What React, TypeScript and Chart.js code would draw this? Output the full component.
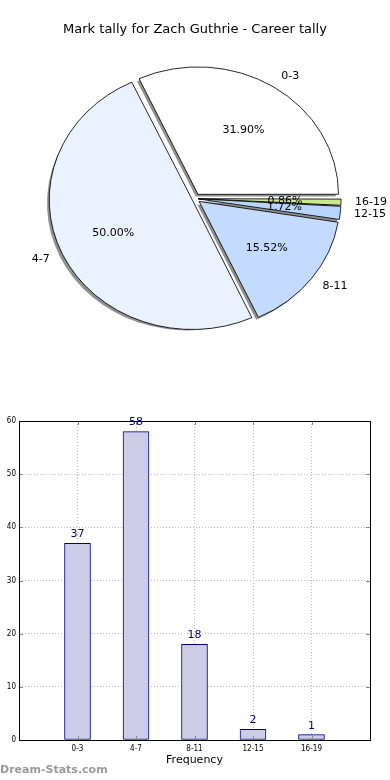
import React, { useEffect, useRef } from 'react';
import { Chart, registerables } from 'chart.js';

Chart.register(...registerables);

const TITLE = 'Mark tally for Zach Guthrie - Career tally';
const categories = ['0-3', '4-7', '8-11', '12-15', '16-19'];
const counts = [37, 58, 18, 2, 1];
const sliceColors = ['#ffffff', '#ebf2ff', '#c5daff', '#b9d5fb', '#c9e98d'];
const yTicks = [0, 10, 20, 30, 40, 50, 60];
const X_TITLE = 'Frequency';
const WATERMARK = 'Dream-Stats.com';

const PIE_R = 127;
const SX = 140 / 127;
const EXPLODE = 5.5;
const FONT = "'DejaVu Sans', sans-serif";
const SMALL_FONT = "'DejaVu Sans Condensed', 'DejaVu Sans', sans-serif";

// Chart.js moves an arc by offset/4 * (1 + (1 - sin(min(PI, circumference))))
function offsetFor(value: number, total: number) {
  const circ = (2 * Math.PI * value) / total;
  const fix = 1 - Math.sin(Math.min(Math.PI, circ));
  return (4 * EXPLODE) / (1 + fix);
}

const pieDecor = {
  id: 'pieDecor',
  beforeDatasetsDraw(chart: any) {
    const ctx = chart.ctx;
    const arcs = chart.getDatasetMeta(0).data;
    chart.$pieSaved = false;
    if (!arcs.length) return;
    const cx = arcs[0].x;
    const cy = arcs[0].y;
    ctx.save();
    ctx.translate(cx - 2.5, cy + 2.5);
    ctx.scale(SX, 1);
    ctx.translate(-cx, -cy);
    arcs.forEach((a: any) => {
      const mid = (a.startAngle + a.endAngle) / 2;
      const ox = a.x + Math.cos(mid) * EXPLODE;
      const oy = a.y + Math.sin(mid) * EXPLODE;
      ctx.beginPath();
      ctx.moveTo(ox, oy);
      ctx.arc(ox, oy, a.outerRadius, a.startAngle, a.endAngle);
      ctx.closePath();
      ctx.fillStyle = '#909090';
      ctx.fill();
    });
    ctx.restore();
    ctx.save();
    ctx.translate(cx, cy);
    ctx.scale(SX, 1);
    ctx.translate(-cx, -cy);
    chart.$pieSaved = true;
  },
  afterDatasetsDraw(chart: any) {
    const ctx = chart.ctx;
    if (chart.$pieSaved) ctx.restore();
    chart.$pieSaved = false;
    const arcs = chart.getDatasetMeta(0).data;
    const values: number[] = chart.data.datasets[0].data;
    const labels: string[] = chart.data.labels;
    const total = values.reduce((s, v) => s + v, 0);
    ctx.save();
    ctx.font = `11px ${FONT}`;
    ctx.fillStyle = '#000';
    ctx.textBaseline = 'middle';
    arcs.forEach((a: any, i: number) => {
      const mid = (a.startAngle + a.endAngle) / 2;
      const c = Math.cos(mid);
      const s = Math.sin(mid);
      const lx = a.x + c * (EXPLODE + 1.1 * a.outerRadius) * SX;
      const ly = a.y + s * (EXPLODE + 1.1 * a.outerRadius);
      ctx.textAlign = c > 0 ? 'left' : 'right';
      ctx.fillText(labels[i], lx, ly);
      const px = a.x + c * (EXPLODE + 0.6 * a.outerRadius) * SX;
      const py = a.y + s * (EXPLODE + 0.6 * a.outerRadius);
      ctx.textAlign = 'center';
      ctx.fillText(((values[i] / total) * 100).toFixed(2) + '%', px, py);
    });
    ctx.restore();
  },
};

const barDecor = {
  id: 'barDecor',
  afterDatasetsDraw(chart: any) {
    const ctx = chart.ctx;
    const meta = chart.getDatasetMeta(0);
    const data = chart.data.datasets[0].data;
    ctx.save();
    ctx.font = `11px ${FONT}`;
    ctx.fillStyle = '#000080';
    ctx.textAlign = 'center';
    ctx.textBaseline = 'middle';
    meta.data.forEach((bar: any, i: number) => {
      const v = data[i];
      if (v === null || v === undefined) return;
      ctx.fillText(String(v), bar.x, bar.y - 9);
    });
    ctx.restore();
  },
  afterDraw(chart: any) {
    const ctx = chart.ctx;
    const { left, top, right, bottom } = chart.chartArea;
    ctx.save();
    ctx.strokeStyle = '#888';
    ctx.lineWidth = 1;
    const xs = chart.scales.x;
    const ys = chart.scales.y;
    ctx.beginPath();
    xs.ticks.forEach((t: any, i: number) => {
      const x = Math.round(xs.getPixelForTick(i)) + 0.5;
      ctx.moveTo(x, top);
      ctx.lineTo(x, top + 4);
      ctx.moveTo(x, bottom);
      ctx.lineTo(x, bottom - 4);
    });
    ys.ticks.forEach((t: any, i: number) => {
      const y = Math.round(ys.getPixelForTick(i)) + 0.5;
      ctx.moveTo(left, y);
      ctx.lineTo(left + 4, y);
      ctx.moveTo(right, y);
      ctx.lineTo(right - 4, y);
    });
    ctx.stroke();
    ctx.strokeStyle = '#000';
    ctx.lineWidth = 1;
    ctx.strokeRect(Math.round(left) + 0.5, Math.round(top) + 0.5, Math.round(right - left), Math.round(bottom - top));
    ctx.font = `bold 11px ${FONT}`;
    ctx.fillStyle = '#9a9a9a';
    ctx.textAlign = 'left';
    ctx.textBaseline = 'middle';
    ctx.fillText(WATERMARK, 0, chart.height - 10);
    ctx.restore();
  },
};

function PieChart() {
  const ref = useRef<HTMLCanvasElement>(null);
  useEffect(() => {
    if (!ref.current) return;
    const order = categories.map((_, i) => i).reverse();
    const total = counts.reduce((s, v) => s + v, 0);
    const chart = new Chart(ref.current, {
      type: 'pie',
      data: {
        labels: order.map((i) => categories[i]),
        datasets: [
          {
            data: order.map((i) => counts[i]),
            backgroundColor: order.map((i) => sliceColors[i]),
            borderColor: '#000',
            borderWidth: 0.8,
            offset: order.map((i) => offsetFor(counts[i], total)),
            rotation: 90,
            radius: PIE_R,
            clip: false,
          } as any,
        ],
      },
      options: {
        responsive: false,
        animation: false,
        events: [],
        layout: { padding: { top: 0, bottom: 50.4, left: 0, right: 0 } },
        plugins: {
          legend: { display: false },
          tooltip: { enabled: false },
          title: {
            display: true,
            text: TITLE,
            color: '#000',
            font: { family: FONT, size: 13, weight: 'normal' },
            padding: { top: 22, bottom: 10 },
          },
        },
      } as any,
      plugins: [pieDecor],
    });
    return () => chart.destroy();
  }, []);
  return <canvas ref={ref} width={390} height={400} style={{ position: 'absolute', left: 0, top: 0 }} />;
}

function BarChart() {
  const ref = useRef<HTMLCanvasElement>(null);
  useEffect(() => {
    if (!ref.current) return;
    const labels = ['', ...categories, ''];
    const values = [null, ...counts, null];
    const chart = new Chart(ref.current, {
      type: 'bar',
      data: {
        labels,
        datasets: [
          {
            data: values,
            backgroundColor: '#ccccE6',
            borderColor: '#000080',
            borderWidth: 1,
            borderSkipped: false,
            barThickness: 26,
          } as any,
        ],
      },
      options: {
        responsive: false,
        animation: false,
        events: [],
        layout: { padding: { top: 21, right: 20, left: 0, bottom: 0 } },
        plugins: { legend: { display: false }, tooltip: { enabled: false } },
        scales: {
          x: {
            type: 'category',
            offset: false,
            grid: { color: '#b8b8b8', lineWidth: 1, drawTicks: false, offset: false },
            border: { display: false, dash: [1, 2] },
            ticks: {
              autoSkip: false,
              maxRotation: 0,
              color: '#000',
              padding: 4,
              font: { family: SMALL_FONT, size: 8 },
            },
            title: {
              display: true,
              text: X_TITLE,
              color: '#000',
              font: { family: FONT, size: 11 },
              padding: { top: 2, bottom: 13 },
            },
            afterFit: (s: any) => {
              s.height = 40;
            },
          },
          y: {
            min: 0,
            max: 60,
            grid: { color: '#b8b8b8', lineWidth: 1, drawTicks: false },
            border: { display: false, dash: [1, 2] },
            ticks: {
              color: '#000',
              padding: 3,
              font: { family: SMALL_FONT, size: 8 },
            },
            afterBuildTicks: (s: any) => {
              s.ticks = yTicks.map((v) => ({ value: v }));
            },
            afterFit: (s: any) => {
              s.width = 19;
            },
          },
        },
      } as any,
      plugins: [barDecor],
    });
    return () => chart.destroy();
  }, []);
  return <canvas ref={ref} width={390} height={380} style={{ position: 'absolute', left: 0, top: 400 }} />;
}

export default function App() {
  return (
    <div style={{ position: 'absolute', left: 0, top: 0, width: 390, height: 780, background: '#fff' }}>
      <PieChart />
      <BarChart />
    </div>
  );
}
